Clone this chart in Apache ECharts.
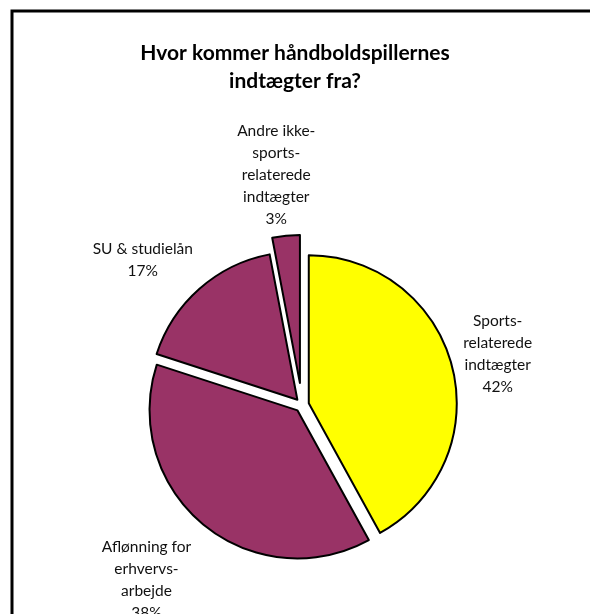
<!DOCTYPE html>
<html lang="da">
<head>
    <meta charset="UTF-8">
    <title>Håndboldspillernes indtægter</title>
    <style>
        html, body { margin: 0; padding: 0; background: #fff; }
    </style>
</head>
<body>
    <div id="chartDiv" style="width: 590px;height:614px;"></div>
</body>
<script type="text/javascript" src="https://cdn.jsdelivr.net/npm/echarts@6/dist/echarts.min.js"></script>
<script type="text/javascript">
    // data
    var categories = [
        'Sports-\nrelaterede\nindtægter',
        'Aflønning for\nerhvervs-\narbejde',
        'SU & studielån',
        'Andre ikke-\nsports-\nrelaterede\nindtægter'
    ];
    var shares = [42, 38, 17, 3];

    // styling / layout per slice
    var colors = ['#FFFF00', '#993366', '#993366', '#993366'];
    var explode = [7, 7, 7, 22];
    var labelRadius = [202, 233, 215, 231];
    var labelNudge = [[0, -1], [-7, -5], [-17, 16], [-4, 0]];

    var cx = 302, cy = 405, R = 148;
    var total = shares.reduce(function (a, b) { return a + b; }, 0);

    // midt-vinkel for hvert stykke (fra kl. 12, med uret)
    function midAngle(i) {
        var before = 0;
        for (var k = 0; k < i; k++) before += shares[k];
        return (before + shares[i] / 2) / total * Math.PI * 2;
    }

    var myChart = echarts.init(document.getElementById('chartDiv'));

    // en serie pr. eksplosionsafstand
    var groups = [];
    explode.forEach(function (e) { if (groups.indexOf(e) < 0) groups.push(e); });

    var series = groups.map(function (off) {
        return {
            type: 'pie',
            center: [cx, cy],
            radius: R,
            startAngle: 90,
            clockwise: true,
            selectedMode: 'multiple',
            selectedOffset: off,
            animation: false,
            silent: true,
            emphasis: { disabled: true },
            label: { show: false },
            labelLine: { show: false },
            data: categories.map(function (name, i) {
                var mine = explode[i] === off;
                var st = mine
                    ? { color: colors[i], borderColor: '#000', borderWidth: 2 }
                    : { color: 'rgba(0,0,0,0)', borderWidth: 0 };
                return {
                    name: name,
                    value: shares[i],
                    selected: mine,
                    itemStyle: st,
                    select: { itemStyle: st }
                };
            })
        };
    });

    // etiketter (navn + procent) uden for stykkerne
    var labels = categories.map(function (name, i) {
        var a = midAngle(i);
        return {
            type: 'text',
            silent: true,
            style: {
                text: name + '\n' + Math.round(shares[i] / total * 100) + '%',
                x: cx + Math.sin(a) * labelRadius[i] + labelNudge[i][0],
                y: cy - Math.cos(a) * labelRadius[i] + labelNudge[i][1],
                align: 'center',
                verticalAlign: 'middle',
                fontFamily: 'Lato',
                fontSize: 15.5,
                lineHeight: 22,
                fill: '#111'
            }
        };
    });

    var option = {
        backgroundColor: '#fff',
        title: {
            text: 'Hvor kommer håndboldspillernes\nindtægter fra?',
            left: 'center',
            top: 34,
            textStyle: {
                fontFamily: 'Lato',
                fontWeight: 'bold',
                fontSize: 21,
                lineHeight: 28,
                color: '#000'
            }
        },
        graphic: [{
            type: 'rect',
            shape: { x: 12, y: 11, width: 620, height: 640 },
            style: { fill: null, stroke: '#000', lineWidth: 3 },
            silent: true
        }].concat(labels),
        series: series
    };

    myChart.setOption(option);
</script>
</html>
